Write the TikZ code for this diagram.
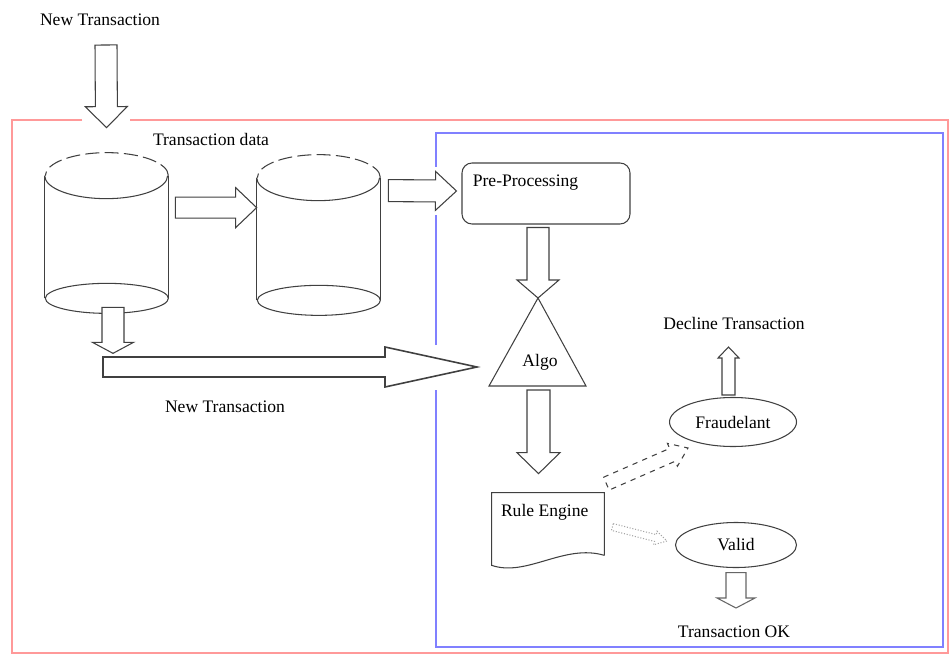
\documentclass[tikz,border=0pt]{standalone}
\usepackage{fontspec}
\setmainfont{Liberation Serif}
\usetikzlibrary{shapes, calc, positioning}

\tikzset{
  lbl/.style={inner sep=0pt},
  dbbody/.style={minimum width=24.6mm, minimum height=24.4mm, inner sep=0pt},
  shapeline/.style={draw=black!75, line width=0.6pt},
  procbox/.style={shapeline, rounded corners=2mm, minimum width=33.6mm, minimum height=12.2mm, inner sep=0pt},
  docbox/.style={minimum width=22.4mm, minimum height=12.4mm, inner sep=0pt},
  endnode/.style={ellipse, shapeline, minimum width=25.4mm, minimum height=9.8mm, inner sep=0pt},
  arrowbox/.style={draw=black!75, fill=white, line width=0.6pt, line join=miter},
  redframe/.style={draw=red!40, line width=1.2pt},
  blueframe/.style={draw=blue!50, line width=1.2pt},
  % hollow block arrow: half shaft, half head, head length
  blockarrow/.style n args={3}{
    to path={
      let \p1=($(\tikztotarget)-(\tikztostart)$),
          \n1={atan2(\y1,\x1)}, \n2={veclen(\x1,\y1)-#3} in
      ($(\tikztostart)+(\n1+90:#1)$)
      -- ($(\tikztostart)+(\n1:\n2)+(\n1+90:#1)$)
      -- ($(\tikztostart)+(\n1:\n2)+(\n1+90:#2)$)
      -- (\tikztotarget)
      -- ($(\tikztostart)+(\n1:\n2)+(\n1-90:#2)$)
      -- ($(\tikztostart)+(\n1:\n2)+(\n1-90:#1)$)
      -- ($(\tikztostart)+(\n1-90:#1)$)
      -- cycle
    }
  }
}

% database drum around an empty node
\newcommand{\dbdrum}[1]{%
  \draw[shapeline, dash pattern=on 8pt off 3pt] (#1.north east)
    arc[start angle=0, end angle=180, x radius=12.3mm, y radius=4.6mm];
  \draw[shapeline] (#1.north west)
    arc[start angle=180, end angle=360, x radius=12.3mm, y radius=4.6mm];
  \draw[shapeline] (#1.north west) -- (#1.south west);
  \draw[shapeline] (#1.north east) -- (#1.south east);
  \draw[shapeline] (#1.south east)
    arc[start angle=0, end angle=360, x radius=12.3mm, y radius=3mm];
}

\begin{document}
\begin{tikzpicture}[x=0.2mm, y=-0.2mm, font=\fontsize{10}{12}\selectfont]
  \useasboundingbox (0,0) rectangle (950,655);

  % frames
  \draw[redframe] (82,120) -- (12,120) -- (12,653) -- (948,653) -- (948,120) -- (130,120);
  \draw[blueframe] (436,167) -- (436,133) -- (943,133) -- (943,647) -- (436,647) -- (436,390);
  \draw[blueframe] (436,345) -- (436,215);

  % texts
  \node[lbl] (newtop) at (100,20) {New Transaction};
  \node[lbl] (txdata) at (211,139) {Transaction data};
  \node[lbl] (newbot) at (225,407) {New Transaction};
  \node[lbl] (decline) at (734,323) {Decline Transaction};
  \node[lbl] (ok) at (734,632) {Transaction OK};

  % data stores
  \node[dbbody] (db1) at (106.5,237) {};
  \node[dbbody] (db2) at (318.5,239) {};
  \dbdrum{db1}
  \dbdrum{db2}

  % processing
  \node[procbox, label={[anchor=north west, inner sep=0pt, xshift=2.2mm, yshift=-2.4mm]north west:Pre-Processing}] (pre) at (546,193.5) {};

  \node[lbl] (algo) at (540,362) {Algo};
  \coordinate (apex) at ($(algo)+(-2,-64)$);
  \draw[shapeline] (apex) -- ($(algo)+(46,24)$) -- ($(algo)+(-51,24)$) -- cycle;

  \node[docbox, label={[anchor=north west, inner sep=0pt, xshift=1.8mm, yshift=-2.2mm]north west:Rule Engine}] (rule) at (548,524) {};
  \draw[shapeline] (rule.south east) -- (rule.north east) -- (rule.north west)
    -- ($(rule.south west)+(0,10)$)
    .. controls ($(rule.south west)+(35,22)$) and ($(rule.south east)+(-40,-12)$) .. (rule.south east);

  \node[endnode] (fraud) at (733,422) {Fraudelant};
  \node[endnode, minimum width=24.2mm, minimum height=9mm] (valid) at (736,545) {Valid};

  % arrows
  \draw[arrowbox, blockarrow={2.2mm}{4.2mm}{4.2mm}] ($(newtop)+(6,25)$) to ($(db1.north)+(0,-48)$);
  \draw[arrowbox, blockarrow={2.1mm}{4mm}{4.2mm}] ($(db1.north east)+(7,32)$) to ($(db2.north west)+(0,30)$);
  \draw[arrowbox, blockarrow={2.2mm}{3.9mm}{4.2mm}] ($(db2.north east)+(8,13)$) to ($(pre.west)+(-5,-2.5)$);
  \draw[arrowbox, blockarrow={2.2mm}{4.2mm}{3.6mm}] ($(pre.south)+(-8,3)$) to (apex);
  \draw[arrowbox, blockarrow={2.2mm}{4.1mm}{2.2mm}] ($(db1.south)+(6.5,9)$) to ($(db1.south)+(6.5,55)$);
  \draw[arrowbox, line width=0.9pt, blockarrow={2mm}{4mm}{18.4mm}] ($(newbot)+(-122,-40)$) to ($(algo)+(-63,5)$);
  \draw[arrowbox, blockarrow={2.3mm}{4.3mm}{4.2mm}] ($(algo)+(-1.5,28)$) to ($(rule.north)+(-9.5,-19)$);
  \draw[arrowbox, dashed, blockarrow={1.4mm}{2.5mm}{3.4mm}] ($(rule.north east)+(2,-9)$) to ($(fraud)+(-45,26)$);
  \draw[arrowbox, draw=black!35, densely dotted, blockarrow={0.7mm}{1.4mm}{2.4mm}] ($(rule.east)+(8,3)$) to ($(valid.west)+(-8,-4)$);
  \draw[arrowbox, blockarrow={1.3mm}{2.1mm}{2.2mm}] ($(fraud.north)+(-4.5,-2)$) to ($(decline)+(-5.5,24)$);
  \draw[arrowbox, draw=black!60, blockarrow={2mm}{3.8mm}{2mm}] ($(valid.south)+(0,4.5)$) to ($(ok)+(2,-24)$);
\end{tikzpicture}
\end{document}
